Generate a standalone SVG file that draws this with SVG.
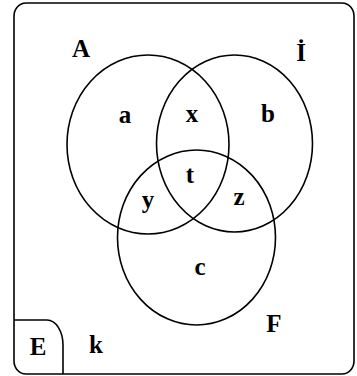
<svg xmlns="http://www.w3.org/2000/svg" width="357" height="376" viewBox="0 0 357 376">
<style>
.ln{fill:none;stroke:#000;stroke-width:1.6}
.lb{font-family:"Liberation Serif","Times New Roman",serif;font-weight:bold;font-size:25px;fill:#000;text-anchor:middle}
</style>
<rect width="357" height="376" fill="#fff"/>
<g id="universe">
<rect class="ln" x="14" y="3" width="340" height="371" rx="12" ry="13"/>
<text class="lb" x="96" y="353">k</text>
</g>
<g id="E">
<path class="ln" d="M14 320 H47 A16 25 0 0 1 63 345 V374"/>
<text class="lb" x="38" y="355">E</text>
</g>
<g id="A">
<ellipse class="ln" cx="148" cy="144.5" rx="81" ry="89.5"/>
<text class="lb" x="81" y="57">A</text>
</g>
<g id="I">
<ellipse class="ln" cx="234.5" cy="143.5" rx="78" ry="88.5"/>
<text class="lb" x="301" y="61">İ</text>
</g>
<g id="F">
<ellipse class="ln" cx="196.5" cy="237.5" rx="79" ry="87.5"/>
<text class="lb" x="274" y="332">F</text>
</g>
<g id="regions">
<text class="lb" x="125" y="123">a</text>
<text class="lb" x="192" y="122">x</text>
<text class="lb" x="268" y="122">b</text>
<text class="lb" x="190" y="183">t</text>
<text class="lb" x="148" y="208">y</text>
<text class="lb" x="239" y="205">z</text>
<text class="lb" x="200" y="275">c</text>
</g>
</svg>
